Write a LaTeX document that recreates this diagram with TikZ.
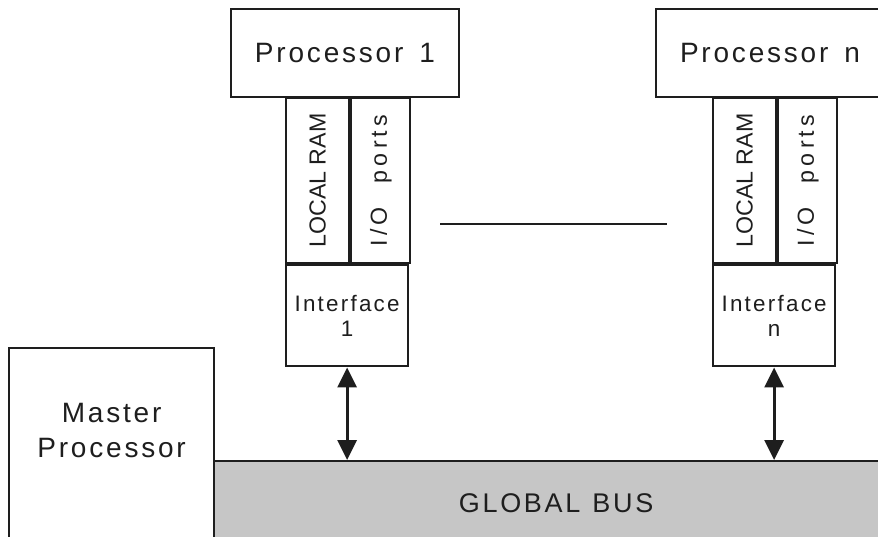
\documentclass[tikz,border=0pt]{standalone}
\usepackage{fontspec}
\usepackage{graphicx}
\setmainfont{Liberation Sans}
\newfontfamily\wideface[LetterSpace=10]{Liberation Sans}
\newfontfamily\portsface[LetterSpace=18]{Liberation Sans}
\usetikzlibrary{positioning, arrows.meta, calc}
\definecolor{mpInk}{HTML}{1E1E1E}
\definecolor{mpBus}{HTML}{C6C6C6}
\tikzset{
  mp/.style={x=0.5pt, y=-0.5pt, line width=1.1pt, draw=mpInk, text=mpInk, node distance=0pt},
  box/.style={draw=mpInk, inner sep=0pt, align=center},
  cpu/.style={box, minimum width=114pt, minimum height=44pt, font=\wideface\fontsize{14}{17.5}\selectfont},
  ram/.style={box, minimum width=31.5pt, minimum height=82.5pt, font=\fontsize{11.6}{12}\selectfont},
  ioport/.style={box, minimum width=29.5pt, minimum height=82.5pt, font=\portsface\fontsize{11.6}{12}\selectfont},
  iface/.style={box, minimum width=61pt, minimum height=50.5pt, font=\wideface\fontsize{11.2}{12.5}\selectfont},
  master/.style={box, minimum width=102.5pt, minimum height=98pt, text depth=16pt, font=\wideface\fontsize{14}{17.5}\selectfont},
  bus/.style={box, fill=mpBus, minimum width=342pt, minimum height=42pt, font=\wideface\fontsize{13.5}{14}\selectfont},
  link/.style={{Triangle[length=10pt, width=9.5pt]}-{Triangle[length=10pt, width=9.5pt]}, line width=1.5pt},
}

\begin{document}
\begin{tikzpicture}[
  mp,
]
\useasboundingbox (0,0) rectangle (878,536);
\clip (0,0) rectangle (878,536);

% processor 1
\node[cpu] (p1) at (345,53) {Processor\hspace{8pt}1};
\node[ram, anchor=north west] (ram1) at (285,97) {\rotatebox{90}{LOCAL RAM}};
\node[ioport, right=of ram1] (io1) {\rotatebox{90}{I/O\hspace{12pt}ports}};
\node[iface, anchor=north west] (if1) at (ram1.south west) {Interface\\1};

% processor n
\node[cpu] (pn) at (770,53) {Processor\hspace{8pt}n};
\node[ram, anchor=north west] (ramn) at (712,97) {\rotatebox{90}{LOCAL RAM}};
\node[ioport, right=of ramn] (ion) {\rotatebox{90}{I/O\hspace{12pt}ports}};
\node[iface, anchor=north west] (ifn) at (ramn.south west) {Interface\\n};

\coordinate (gapL) at (440,224);
\coordinate (gapR) at (667,224);
\draw (gapL) -- (gapR);

% master and bus
\node[master, anchor=north west] (master) at (8,347) {Master\\Processor};
\node[bus, anchor=north west] (bus) at (213,460) {GLOBAL\hspace{6pt}BUS};

\draw[link] (if1.south) -- (if1.south |- bus.north);
\draw[link] (ifn.south) -- (ifn.south |- bus.north);
\end{tikzpicture}
\end{document}
